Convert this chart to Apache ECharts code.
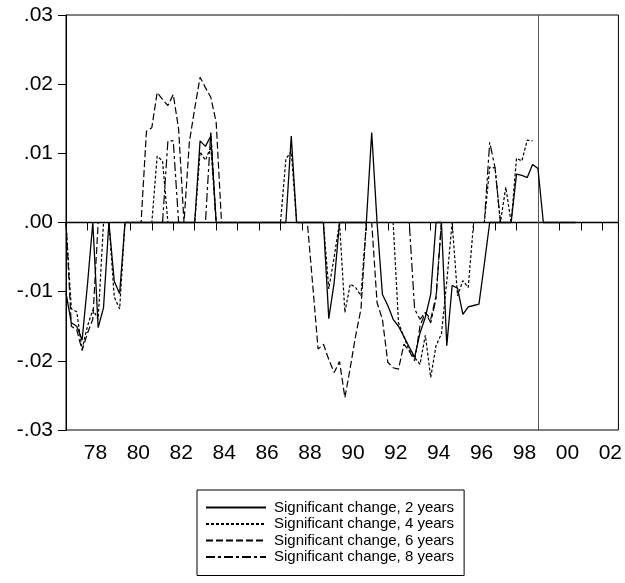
<!DOCTYPE html>
<html lang="en">
<head>
  <meta charset="UTF-8">
  <title>Significant change</title>
  <style>
    html, body { margin: 0; padding: 0; background: #fff; }
    #main { width: 625px; height: 583px; }
  </style>
</head>
<body>
<div id="main"></div>
<script src="https://cdn.jsdelivr.net/npm/echarts@6/dist/echarts.min.js"></script>
<script>
  // quarterly, 1977Q1 .. 2002Q4
  var startYear = 1977;
  var yTicks = [-0.03, -0.02, -0.01, 0, 0.01, 0.02, 0.03];
  var seriesNames = ['Significant change, 2 years', 'Significant change, 4 years',
                     'Significant change, 6 years', 'Significant change, 8 years'];

  var change2 = [
    -0.0102, -0.0145, -0.0150, -0.0170,   -0.0090, 0, -0.0152, -0.0123,   // 77 78
    0, -0.0085, -0.0103, 0,               0, 0, 0, 0,                     // 79 80
    0, 0, 0, 0,                           0, 0, 0, 0,                     // 81 82
    0, 0.0118, 0.0110, 0.0125,            0, 0, 0, 0,                     // 83 84
    0, 0, 0, 0,                           0, 0, 0, 0,                     // 85 86
    0, 0, 0.0125, 0,                      0, 0, 0, 0,                     // 87 88
    0, -0.0139, -0.0087, 0,               0, 0, 0, 0,                     // 89 90
    0, 0.0130, 0, -0.0104,                -0.0120, -0.0140, -0.0150, -0.0165, // 91 92
    -0.0180, -0.0195, -0.0160, -0.0137,   -0.0104, 0, 0, -0.0178,         // 93 94
    -0.0091, -0.0095, -0.0133, -0.0122,   -0.0120, -0.0118, -0.0060, 0,   // 95 96
    0, 0, 0, 0,                           0.0070, 0.0068, 0.0065, 0.0084, // 97 98
    0.0078, 0, 0, 0,                      0, 0, 0, 0,                     // 99 00
    null, null, null, null,               null, null, null, null          // 01 02
  ];
  var change4 = [
    0, -0.0125, -0.0129, -0.0183,         -0.0150, -0.0126, -0.0140, 0,
    0, -0.0108, -0.0125, 0,               0, 0, 0, 0,
    0, 0.0096, 0.0089, 0,                 0, 0, 0, 0,
    0, 0.0102, 0.0090, 0.0110,            0, 0, 0, 0,
    0, 0, 0, 0,                           0, 0, 0, 0,
    0, 0.0092, 0.0103, 0,                 0, 0, 0, 0,
    0, -0.0096, -0.0050, 0,               -0.0130, -0.0089, -0.0094, -0.0106,
    0, 0, 0, 0,                           0, 0, -0.0145, -0.0165,
    -0.0185, -0.0195, -0.0205, -0.0163,   -0.0224, -0.0178, -0.0161, -0.0085,
    0, -0.0106, -0.0084, -0.0094,         0, 0, 0, 0.0080,
    0.0079, 0, 0.0051, 0,                 0.0093, 0.0089, 0.0119, 0.0118,
    null, null, null, null,               null, null, null, null,
    null, null, null, null,               null, null, null, null
  ];
  var change6 = [
    0, -0.0150, -0.0155, -0.0185,         -0.0160, -0.0140, 0, 0,
    0, 0, 0, 0,                           0, 0, 0, 0.0132,
    0.0137, 0.0188, 0.0178, 0.0169,       0.0185, 0.0135, 0, 0.0116,
    0.0165, 0.0210, 0.0195, 0.0181,       0.0145, 0, 0, 0,
    0, 0, 0, 0,                           0, 0, 0, 0,
    0, 0, 0, 0,                           0, 0, -0.0090, -0.0183,
    -0.0176, -0.0198, -0.0217, -0.0201,   -0.0253, -0.0210, -0.0164, -0.0125,
    0, 0, -0.0116, -0.0140,               -0.0202, -0.0210, -0.0212, -0.0176,
    -0.0186, -0.0200, -0.0150, -0.0130,   -0.0140, -0.0106, 0, 0,
    0, 0, 0, 0,                           0, 0, 0, 0,
    0, 0, 0, 0,                           0, 0, 0, 0,
    null, null, null, null,               null, null, null, null,
    null, null, null, null,               null, null, null, null
  ];
  var change8 = [
    null, null, null, null,               null, null, null, null,
    0, 0, 0, 0,                           0, 0, 0, 0,
    0, 0, 0, 0.0118,                      0.0118, 0, 0, 0,
    0, 0, 0, 0.0132,                      0, 0, 0, 0,
    0, 0, 0, 0,                           0, 0, 0, 0,
    0, 0, 0, 0,                           0, 0, 0, 0,
    0, 0, 0, 0,                           0, 0, 0, 0,
    0, 0, 0, 0,                           0, 0, 0, 0,
    0, -0.0125, -0.0140, -0.0130,         -0.0145, -0.0110, 0, 0,
    0, 0, 0, 0,                           0, 0, 0, 0.0116,
    0.0079, 0, 0, 0,                      0, 0, 0, 0,
    null, null, null, null,               null, null, null, null,
    null, null, null, null,               null, null, null, null
  ];

  function pairs(arr) {
    var out = [];
    for (var i = 0; i < arr.length; i++) out.push([i, arr[i]]);
    return out;
  }

  var font = 'Liberation Sans, Arial, sans-serif';
  var lastIndex = change2.length - 1;

  var chart = echarts.init(document.getElementById('main'));
  chart.setOption({
    animation: false,
    backgroundColor: '#fff',
    color: ['#000', '#000', '#000', '#000'],
    grid: {
      left: 66, right: 6, top: 15, bottom: 153,
      show: true, borderColor: '#000', borderWidth: 1
    },
    legend: {
      left: 197, top: 490,
      orient: 'vertical',
      itemWidth: 60, itemHeight: 12, itemGap: 1.5,
      padding: [10, 10, 11, 8],
      borderColor: '#000', borderWidth: 1,
      itemStyle: { opacity: 0 },
      textStyle: { fontFamily: font, fontSize: 15, color: '#000', padding: [0, 0, 0, 3] },
      data: seriesNames
    },
    xAxis: {
      type: 'value',
      min: 0, max: lastIndex, interval: 4,
      axisLine: { lineStyle: { color: '#000', width: 1 } },
      axisTick: { length: 8, lineStyle: { color: '#000' } },
      splitLine: { show: false },
      axisLabel: {
        color: '#000', fontFamily: font, fontSize: 21, margin: 13,
        padding: [0, 0, 0, 16],
        formatter: function (v) {
          if (v % 4 !== 0) return '';
          var y = startYear + v / 4;
          if (y % 2 !== 0) return '';
          return String(y % 100).padStart(2, '0');
        }
      }
    },
    yAxis: {
      type: 'value',
      min: yTicks[0], max: yTicks[yTicks.length - 1], interval: 0.01,
      axisLine: { show: true, lineStyle: { color: '#000', width: 1 } },
      axisTick: { show: true, length: 8, lineStyle: { color: '#000' } },
      splitLine: { show: false },
      axisLabel: {
        color: '#000', fontFamily: font, fontSize: 21, margin: 13,
        formatter: function (v) {
          var n = Math.round(Math.abs(v) * 100);
          return (v < -1e-9 ? '-' : '') + '.0' + n;
        }
      }
    },
    series: [
      {
        name: seriesNames[0], type: 'line', data: pairs(change2),
        showSymbol: false, symbol: 'none', connectNulls: false,
        lineStyle: { color: '#000', width: 1.3, type: 'solid' },
        markLine: {
          silent: true, symbol: 'none', label: { show: false },
          data: [
            { yAxis: 0, lineStyle: { color: '#000', width: 1.3, type: 'solid' } },
            { xAxis: 88, lineStyle: { color: '#555', width: 1, type: 'solid' } }
          ]
        },
        z: 5
      },
      {
        name: seriesNames[1], type: 'line', data: pairs(change4),
        showSymbol: false, symbol: 'none',
        lineStyle: { color: '#000', width: 1.2, type: [3, 2] }
      },
      {
        name: seriesNames[2], type: 'line', data: pairs(change6),
        showSymbol: false, symbol: 'none',
        lineStyle: { color: '#000', width: 1.2, type: [7, 3] }
      },
      {
        name: seriesNames[3], type: 'line', data: pairs(change8),
        showSymbol: false, symbol: 'none',
        lineStyle: { color: '#000', width: 1.2, type: [9, 3, 3, 3] }
      }
    ]
  });
</script>
</body>
</html>
